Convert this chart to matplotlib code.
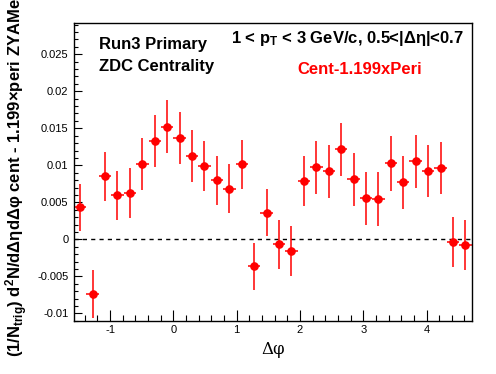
import numpy as np
import matplotlib
matplotlib.use("Agg")
import matplotlib.pyplot as plt
from matplotlib.ticker import MultipleLocator, FuncFormatter

plt.rcParams['font.family'] = ['Liberation Sans', 'DejaVu Sans']
plt.rcParams['axes.unicode_minus'] = False
plt.rcParams['mathtext.fontset'] = 'custom'
plt.rcParams['mathtext.rm'] = 'Liberation Sans:bold'
plt.rcParams['mathtext.it'] = 'Liberation Sans:bold'
plt.rcParams['mathtext.bf'] = 'Liberation Sans:bold'

# Data: 32 bins in delta-phi from -pi/2 to 3pi/2
n_bins = 32
y_values = [0.00432, -0.00739, 0.00851, 0.00595, 0.00622, 0.01014, 0.01324, 0.01522,
            0.01365, 0.01130, 0.00986, 0.00797, 0.00685, 0.01014, -0.00365, 0.00360,
            -0.00068, -0.00158, 0.00784, 0.00973, 0.00919, 0.01215, 0.00811, 0.00554,
            0.00545, 0.01027, 0.00770, 0.01054, 0.00919, 0.00964, -0.00041, -0.00081]
y_errors = [0.0032, 0.0033, 0.0033, 0.0033, 0.0034, 0.0035, 0.0035, 0.0036,
            0.0035, 0.0035, 0.0034, 0.0033, 0.0033, 0.0033, 0.0032, 0.0032,
            0.0033, 0.0034, 0.0034, 0.0036, 0.0036, 0.0036, 0.0036, 0.0036,
            0.0036, 0.0037, 0.0036, 0.0036, 0.0035, 0.0035, 0.0034, 0.0034]

x_lo, x_hi = -np.pi / 2, 3 * np.pi / 2
edges = np.linspace(x_lo, x_hi, n_bins + 1)
centers = 0.5 * (edges[:-1] + edges[1:])
half_w = 0.5 * (edges[1] - edges[0])

fig = plt.figure(figsize=(4.96, 3.74), dpi=100)
ax = fig.add_axes([74 / 496, 1 - 321 / 374, (471.6 - 74) / 496, (321 - 22.7) / 374])

ax.axhline(0, color='black', lw=1.0, ls=(0, (3, 3)))
ax.errorbar(centers, y_values, yerr=y_errors, xerr=half_w, fmt='o', color='red',
            ms=5.2, elinewidth=1.1, capsize=0, mec='red', mfc='red')

ax.set_xlim(x_lo, x_hi)
ax.set_ylim(-0.01104, 0.02927)

ax.xaxis.set_major_locator(MultipleLocator(1))
ax.xaxis.set_minor_locator(MultipleLocator(0.2))
ax.yaxis.set_major_locator(MultipleLocator(0.005))
ax.yaxis.set_minor_locator(MultipleLocator(0.001))
fmt = FuncFormatter(lambda v, p: ('%g' % round(v, 6)) if abs(v) > 1e-12 else '0')
ax.xaxis.set_major_formatter(fmt)
ax.yaxis.set_major_formatter(fmt)
ax.tick_params(axis='both', which='both', direction='in', top=False, right=False,
               labelsize=8, width=0.8)
ax.tick_params(axis='x', which='major', length=8, pad=3)
ax.tick_params(axis='x', which='minor', length=4)
ax.tick_params(axis='y', which='major', length=6, pad=4)
ax.tick_params(axis='y', which='minor', length=3)
for s in ax.spines.values():
    s.set_linewidth(1.0)

ax.set_xlabel('Δφ', fontsize=12, family=['DejaVu Serif'], labelpad=4)

fig.text(3 / 496, 1 - 357 / 374,
         r'(1/N$_{\mathrm{trig}}$) d$^{\mathrm{2}}$N/dΔηdΔφ cent - 1.199×peri ZYAMed',
         rotation=90, ha='left', va='bottom', fontsize=12, fontweight='bold')

fig.text(99 / 496, 1 - 45 / 374, 'Run3 Primary', fontsize=12, fontweight='bold',
         ha='left', va='center')
fig.text(99 / 496, 1 - 66 / 374, 'ZDC Centrality', fontsize=12, fontweight='bold',
         ha='left', va='center')
fig.text(231 / 496, 1 - 38 / 374, r'1 < p$_{\mathrm{T}}$ < 3 GeV/c, 0.5<|Δη|<0.7',
         fontsize=12, fontweight='bold', ha='left', va='center')
fig.text(297 / 496, 1 - 69 / 374, 'Cent-1.199xPeri', fontsize=12, fontweight='bold',
         color='red', ha='left', va='center')

fig.savefig('out.png', dpi=100)
